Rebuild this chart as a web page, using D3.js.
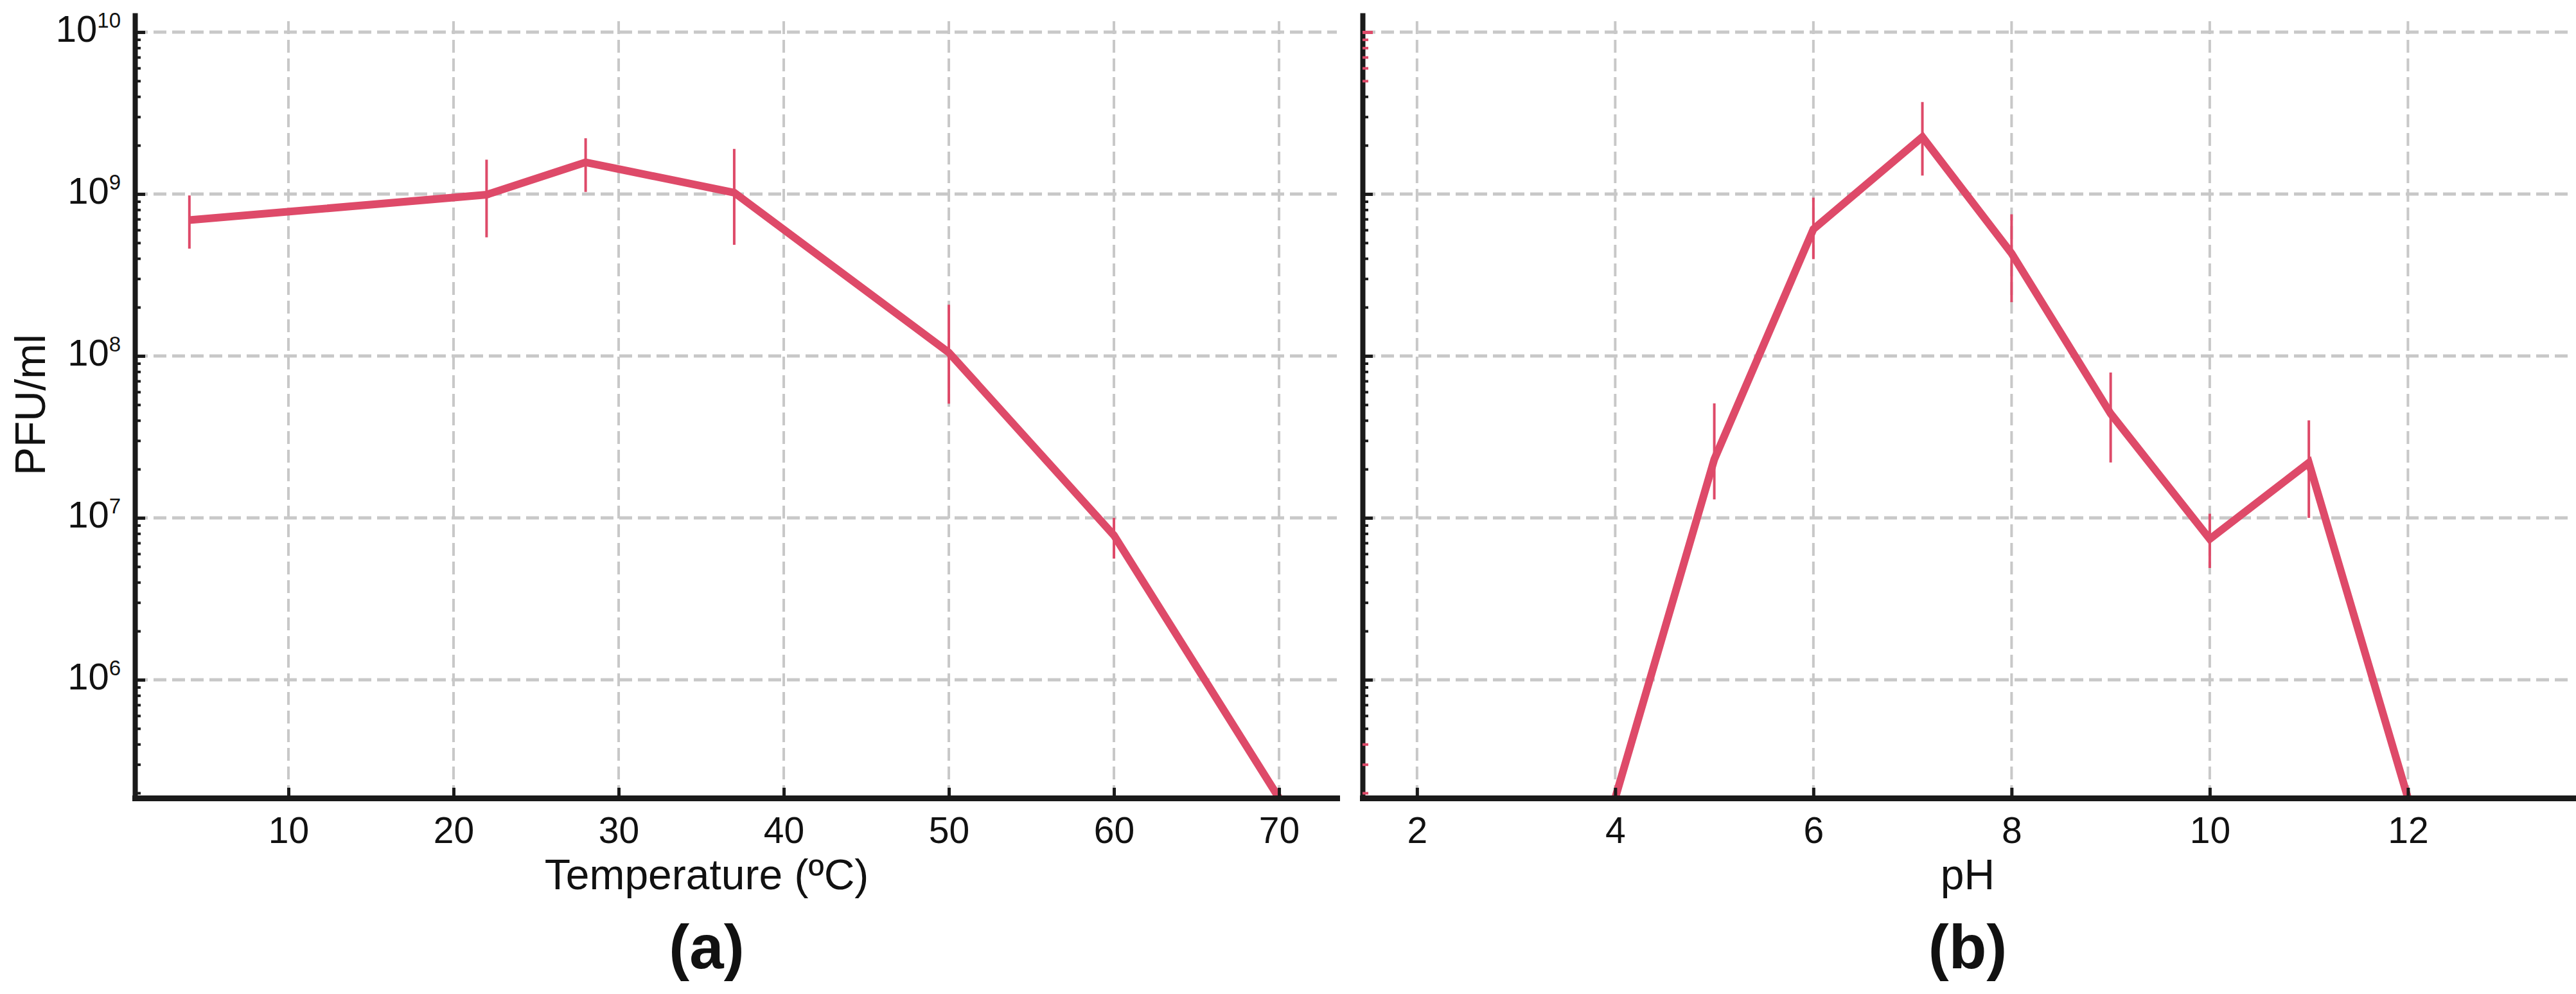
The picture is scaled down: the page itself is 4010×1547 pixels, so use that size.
<!DOCTYPE html>
<html>
<head>
<meta charset="utf-8">
<script src="https://cdn.jsdelivr.net/npm/d3@7"></script>
<style>
	body { margin: 0; background: #fff; }
	text { font-family: "Liberation Sans", Arial, sans-serif; fill: #111; }
</style>
</head>
<body>
<div id="main"></div>
<script>

// (a) temperature series
var tempC = [4, 22, 28, 37, 50, 60, 70]
var tempPfu = [6.9e8, 9.9e8, 1.57e9, 1.02e9, 1.05e8, 7.8e6, 0]
var tempLow = [4.6e8, 5.4e8, 1.03e9, 4.86e8, 5.07e7, 5.6e6, null]
var tempHigh = [9.8e8, 1.63e9, 2.21e9, 1.9e9, 2.07e8, 1.0e7, null]

// (b) pH series
var phVals = [4, 5, 6, 7.1, 8, 9, 10, 11, 12]
var phPfu = [0, 2.3e7, 6.07e8, 2.25e9, 4.3e8, 4.4e7, 7.4e6, 2.19e7, 0]
var phLow = [null, 1.3e7, 3.96e8, 1.3e9, 2.15e8, 2.2e7, 4.9e6, 1.0e7, null]
var phHigh = [null, 5.1e7, 9.5e8, 3.7e9, 7.5e8, 7.9e7, 1.06e7, 4.0e7, null]

// ticks
var tempTicks = [10, 20, 30, 40, 50, 60, 70]
var phTicks = [2, 4, 6, 8, 10, 12]
var decades = [6, 7, 8, 9, 10]

var w = 4010, h = 1547
var lineColor = "#de4a69"
var yMin = 1.86e5, yMax = 1.315e10

var svg = d3.select("#main")
	.append("svg")
	.attr("width", w)
	.attr("height", h)

var y = d3.scaleLog()
	.domain([yMin, yMax])
	.range([1242, 20])

var xA = d3.scaleLinear()
	.domain([0.7, 73.5])
	.range([210, 2081])

var xB = d3.scaleLinear()
	.domain([1.45, 13.67])
	.range([2121, 4006])

// major + minor log ticks
var yTicks = []
for (var d = 5; d <= 10; d++) {
	for (var k = 1; k <= 9; k++) {
		var v = k * Math.pow(10, d)
		if (v >= yMin && v <= yMax) yTicks.push(v)
	}
}
function isMajor(v) { return decades.indexOf(Math.round(Math.log10(v))) >= 0 && Math.abs(Math.log10(v) - Math.round(Math.log10(v))) < 1e-9 }

function drawPanel(x, xTicks, xs, vals, lo, hi, redTick) {

	var g = svg.append("g")

	// grid
	g.selectAll(".hgrid")
		.data(decades)
		.enter()
		.append("line")
		.attr("x1", x.range()[0])
		.attr("x2", x.range()[1])
		.attr("y1", function(d) { return y(Math.pow(10, d)) })
		.attr("y2", function(d) { return y(Math.pow(10, d)) })
		.attr("stroke", "#c8c8c8")
		.attr("stroke-width", 5)
		.attr("stroke-dasharray", "20,9")

	g.selectAll(".vgrid")
		.data(xTicks)
		.enter()
		.append("line")
		.attr("x1", function(d) { return x(d) })
		.attr("x2", function(d) { return x(d) })
		.attr("y1", y.range()[0])
		.attr("y2", 32)
		.attr("stroke", "#c8c8c8")
		.attr("stroke-width", 4)
		.attr("stroke-dasharray", "20,9")

	// error bars
	var pts = xs.map(function(t, i) { return { x: t, v: vals[i], lo: lo[i], hi: hi[i] } })

	g.selectAll(".err")
		.data(pts.filter(function(p) { return p.lo != null }))
		.enter()
		.append("line")
		.attr("x1", function(p) { return x(p.x) })
		.attr("x2", function(p) { return x(p.x) })
		.attr("y1", function(p) { return y(p.lo) })
		.attr("y2", function(p) { return y(p.hi) })
		.attr("stroke", lineColor)
		.attr("stroke-width", 4)

	var line = d3.line()
		.x(function(p) { return x(p.x) })
		.y(function(p) { return y(Math.max(p.v, yMin)) })

	g.append("path")
		.datum(pts)
		.attr("d", line)
		.attr("fill", "none")
		.attr("stroke", lineColor)
		.attr("stroke-width", 12)
		.attr("stroke-linejoin", "miter")

	// x axis
	var xAxis = g.append("g")
		.attr("transform", "translate(0," + y.range()[0] + ")")
		.call(d3.axisBottom(x).tickValues(xTicks).tickSize(-16).tickSizeOuter(0).tickPadding(30))
	xAxis.select(".domain")
		.attr("stroke", "#1a1a1a")
		.attr("stroke-width", 9)
		.attr("stroke-linecap", "square")
	xAxis.selectAll(".tick line")
		.attr("stroke", "#1a1a1a")
		.attr("stroke-width", 5)
	xAxis.selectAll(".tick text")
		.style("font-size", "57px")
		.attr("fill", "#111")

	// y axis
	var yAxis = g.append("g")
		.attr("transform", "translate(" + x.range()[0] + ",0)")
		.call(d3.axisLeft(y).tickValues(yTicks).tickFormat("").tickSizeOuter(0))
	yAxis.select(".domain")
		.attr("stroke", "#1a1a1a")
		.attr("stroke-width", 8)
	yAxis.selectAll(".tick line")
		.attr("x2", function(v) { return isMajor(v) ? 16 : 9 })
		.attr("stroke-width", function(v) { return isMajor(v) ? 5 : 4 })
		// the original has a few ticks overdrawn in the series colour
		.attr("stroke", function(v) { return redTick && (v >= 5e9 || v <= 4e5) ? lineColor : "#1a1a1a" })

	return g
}

var gA = drawPanel(xA, tempTicks, tempC, tempPfu, tempLow, tempHigh, false)
var gB = drawPanel(xB, phTicks, phVals, phPfu, phLow, phHigh, true)

// y tick labels (panel a only)
var lab = gA.selectAll(".ylab")
	.data(decades)
	.enter()
	.append("text")
	.attr("x", 188)
	.attr("y", function(d) { return y(Math.pow(10, d)) + 15 })
	.attr("text-anchor", "end")
	.style("font-size", "58px")
lab.append("tspan").text("10")
lab.append("tspan")
	.attr("dy", -22)
	.style("font-size", "33px")
	.text(function(d) { return d })

svg.append("text")
	.attr("transform", "translate(70,630) rotate(-90)")
	.attr("text-anchor", "middle")
	.style("font-size", "66px")
	.text("PFU/ml")

svg.append("text")
	.attr("x", 1100)
	.attr("y", 1384)
	.attr("text-anchor", "middle")
	.style("font-size", "66px")
	.text("Temperature (ºC)")

svg.append("text")
	.attr("x", 3063)
	.attr("y", 1384)
	.attr("text-anchor", "middle")
	.style("font-size", "66px")
	.text("pH")

svg.append("text")
	.attr("x", 1100)
	.attr("y", 1507)
	.attr("text-anchor", "middle")
	.style("font-size", "96px")
	.style("font-weight", "bold")
	.text("(a)")

svg.append("text")
	.attr("x", 3063)
	.attr("y", 1507)
	.attr("text-anchor", "middle")
	.style("font-size", "96px")
	.style("font-weight", "bold")
	.text("(b)")

</script>
</body>
</html>
